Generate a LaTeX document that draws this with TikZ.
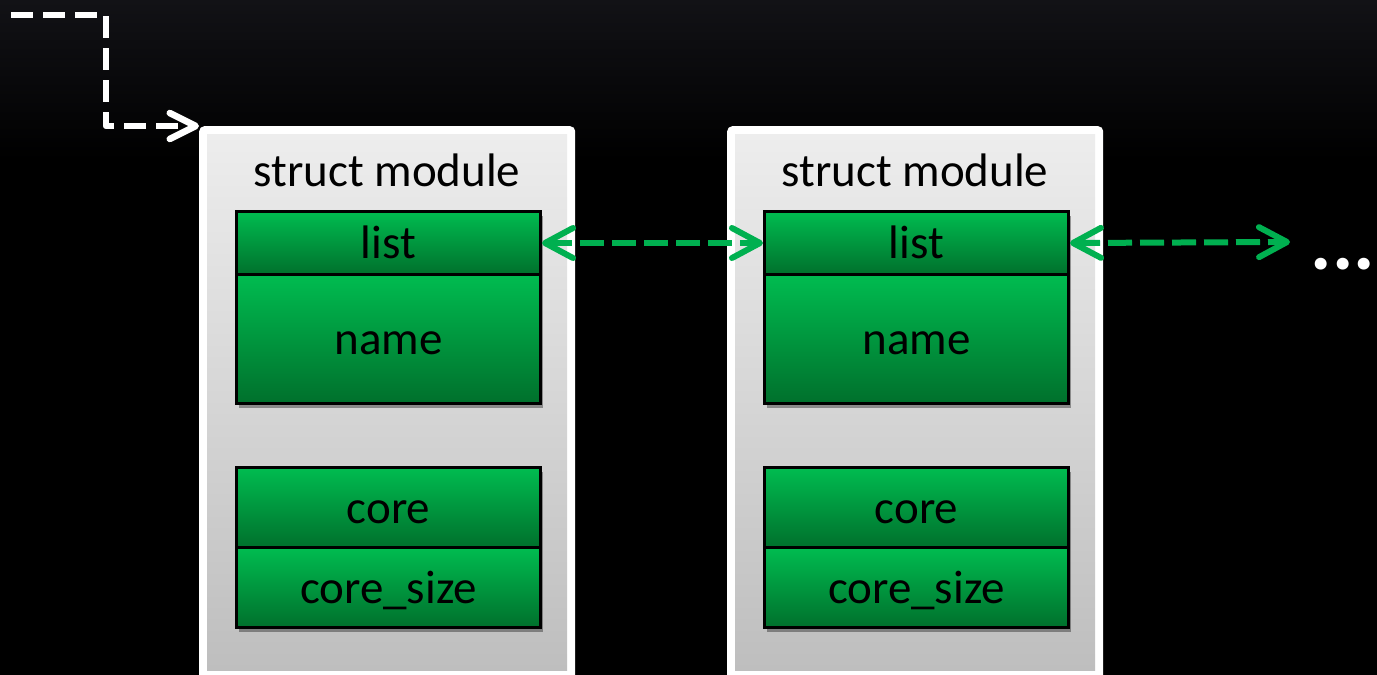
\documentclass[tikz,border=0pt]{standalone}
\usepackage{fontspec}
\setmainfont{Carlito}
\usetikzlibrary{arrows.meta,shadows}
\definecolor{fieldtop}{HTML}{00BC50}
\definecolor{fieldbot}{HTML}{00702C}
\definecolor{linkgreen}{HTML}{00B050}
\definecolor{paneltop}{HTML}{EDEDED}
\definecolor{panelbot}{HTML}{BEBEBE}
\definecolor{skytop}{HTML}{121216}
\tikzset{
  x=1pt, y=-1pt,
  frame/.style={fill=white, draw=none, rounded corners=5pt, anchor=north west,
    minimum width=376pt, minimum height=560pt, inner sep=0pt},
  panel/.style={top color=paneltop, bottom color=panelbot, draw=none, anchor=north west,
    minimum width=360pt, minimum height=536pt, inner sep=0pt},
  title/.style={font=\fontsize{47}{50}\selectfont, text=black, inner sep=0pt},
  field/.style={draw=black, line width=3pt, top color=fieldtop, bottom color=fieldbot,
    anchor=north west, minimum width=304pt, inner sep=0pt,
    text height=35pt, text depth=4pt,
    font=\fontsize{47}{50}\selectfont, text=black,
    drop shadow={shadow xshift=2pt, shadow yshift=-4pt, opacity=0.35, fill=black}},
  link/.style={draw=linkgreen, line width=6pt, dash pattern=on 24pt off 8pt,
    {Straight Barb[length=28pt, width=30pt, round]}-{Straight Barb[length=28pt, width=30pt, round]}},
  entry/.style={draw=white, line width=6.5pt, dash pattern=on 22pt off 10pt, line join=round,
    -{Straight Barb[length=26pt, width=26pt, round]}},
}
\begin{document}
\begin{tikzpicture}
  \useasboundingbox (0,0) rectangle (1377,675);
  \clip (0,0) rectangle (1377,675);
  % dark backdrop
  \fill[black] (0,0) rectangle (1377,675);
  \shade[top color=skytop, bottom color=black] (0,0) rectangle (1377,160);

  % first module
  \node[frame] (m1) at (199,126) {};
  \node[panel] (m1in) at (207,134) {};
  \node[title] (t1) at (387,170) {struct module};
  \node[field, minimum height=63pt] (list1) at (235,210) {list};
  \node[field, minimum height=129pt] (name1) at (235,273) {name};
  \node[field, minimum height=80pt] (core1) at (235,466) {core};
  \node[field, minimum height=80pt] (size1) at (235,546) {core\_size};

  % second module
  \node[frame] (m2) at (727,126) {};
  \node[panel] (m2in) at (735,134) {};
  \node[title] (t2) at (915,170) {struct module};
  \node[field, minimum height=63pt] (list2) at (763,210) {list};
  \node[field, minimum height=129pt] (name2) at (763,273) {name};
  \node[field, minimum height=80pt] (core2) at (763,466) {core};
  \node[field, minimum height=80pt] (size2) at (763,546) {core\_size};

  % list links
  \coordinate (next) at (1290,242);
  \node[text=white, font=\fontsize{80}{80}\selectfont\bfseries, inner sep=0pt] (more) at (1343,264) {...};
  \draw[link] (list1.east) -- (list2.west);
  \draw[link] (list2.east) -- (next);

  % list head
  \coordinate (head) at (11,15);
  \draw[entry] (head) -- (106,15) |- (m1.north west);
\end{tikzpicture}
\end{document}
